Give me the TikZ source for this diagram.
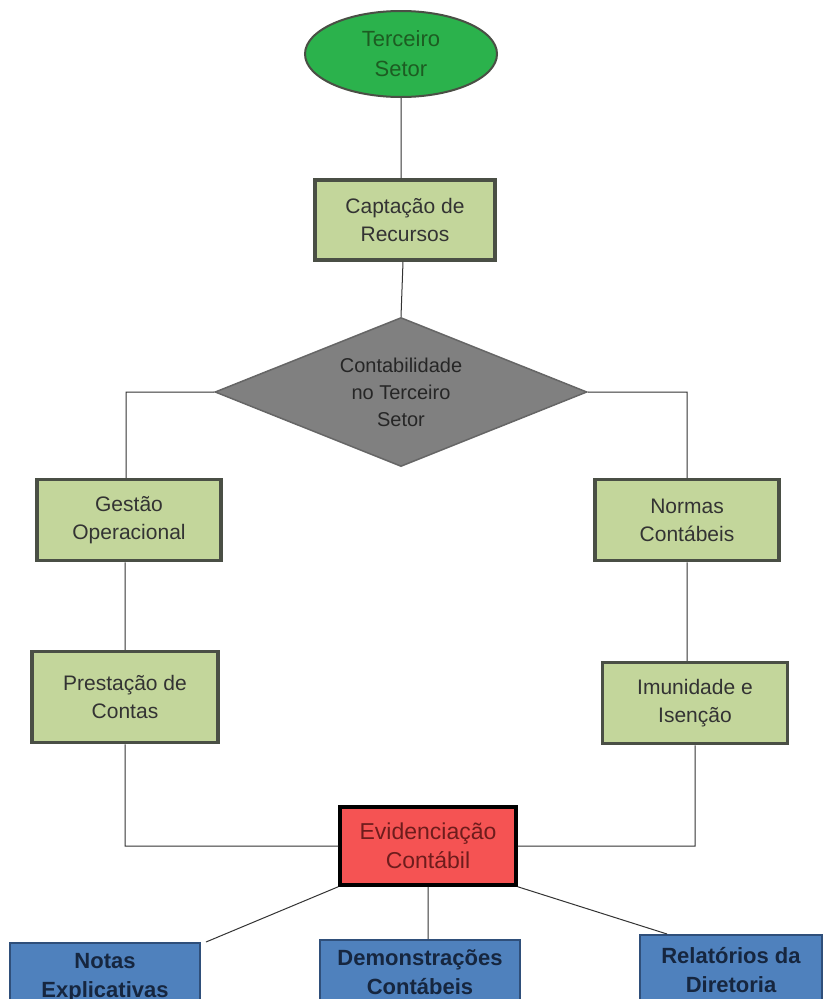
\documentclass[tikz,border=0pt]{standalone}
\usepackage{fontspec}
\setmainfont{Liberation Sans}
\usepackage{tikz}
\usetikzlibrary{shapes.geometric,positioning}

\definecolor{tsgreen}{HTML}{2BB24C}
\definecolor{tstext}{HTML}{1D5C22}
\definecolor{boxgreen}{HTML}{C3D69B}
\definecolor{boxline}{HTML}{4A4F45}
\definecolor{evred}{HTML}{F55353}
\definecolor{evtext}{HTML}{6E1C1C}
\definecolor{nblue}{HTML}{4F81BD}
\definecolor{nline}{HTML}{2F4F7A}
\definecolor{ntext}{HTML}{16263F}

\begin{document}
\begin{tikzpicture}[x=1pt,y=-1pt,font=\fontsize{21}{28}\selectfont,
  green box/.style={rectangle,draw=boxline,line width=3.5pt,fill=boxgreen,
    text=black!80,align=center,inner sep=0pt},
  blue box/.style={rectangle,draw=nline,line width=2pt,fill=nblue,
    text=ntext,align=center,inner sep=0pt,font=\fontsize{22}{29}\selectfont\bfseries},
  link/.style={draw=black!80,line width=1pt}]
  \clip (0,0) rectangle (833,999);
  \fill[white] (0,0) rectangle (833,999);

  \node[ellipse,draw=boxline,line width=2pt,fill=tsgreen,text=tstext,align=center,
    minimum width=192pt,minimum height=86pt,inner sep=0pt,font=\fontsize{22}{30}\selectfont] (ts) at (401,54) {Terceiro\\Setor};
  \node[green box,minimum width=180pt,minimum height=80pt] (cap) at (405,220) {Captação de\\Recursos};
  \node[diamond,draw=black!60,line width=1.5pt,fill=black!50,text=black!85,align=center,
    minimum width=372pt,minimum height=149pt,inner sep=0pt,aspect=2.5,
    font=\fontsize{20}{27}\selectfont] (cont) at (401,392)
    {Contabilidade\\no Terceiro\\Setor};

  \node[green box,minimum width=184pt,minimum height=81pt] (gest) at (129,520) {Gestão\\Operacional};
  \node[green box,minimum width=186pt,minimum height=91pt] (prest) at (125,697) {Prestação de\\Contas};
  \node[green box,minimum width=184pt,minimum height=81pt] (norm) at (687,520) {Normas\\Contábeis};
  \node[green box,minimum width=185pt,minimum height=81pt] (imun) at (695,703) {Imunidade  e\\Isenção};

  \node[rectangle,draw=black,line width=3.5pt,fill=evred,text=evtext,align=center,inner sep=0pt,
    minimum width=176pt,minimum height=78pt,font=\fontsize{23}{29}\selectfont] (evid) at (428,846) {Evidenciação\\Contábil};

  \node[blue box,minimum width=190pt,minimum height=70pt] (notas) at (105,978) {Notas\\Explicativas};
  \node[blue box,minimum width=200pt,minimum height=64pt] (demo) at (420,972) {Demonstrações\\Contábeis};
  \node[blue box,minimum width=182pt,minimum height=70pt] (rel) at (731,970) {Relatórios da\\Diretoria};

  \path[link] (ts.south) -- (ts.south |- cap.north)
    ([xshift=-2pt]cap.south) -- (cont.north)
    (cont.west) -| ([xshift=-3pt]gest.north)
    (cont.east) -| (norm.north)
    (gest.south -| prest.north) -- (prest.north)
    (norm.south) -- (norm.south |- imun.north)
    (prest.south) |- (evid.west)
    (imun.south) |- (evid.east)
    (evid.south west) -- ([xshift=5pt]notas.north east)
    (evid.south) -- (evid.south |- demo.north)
    (evid.south east) -- ([xshift=28pt]rel.north west);
\end{tikzpicture}
\end{document}
